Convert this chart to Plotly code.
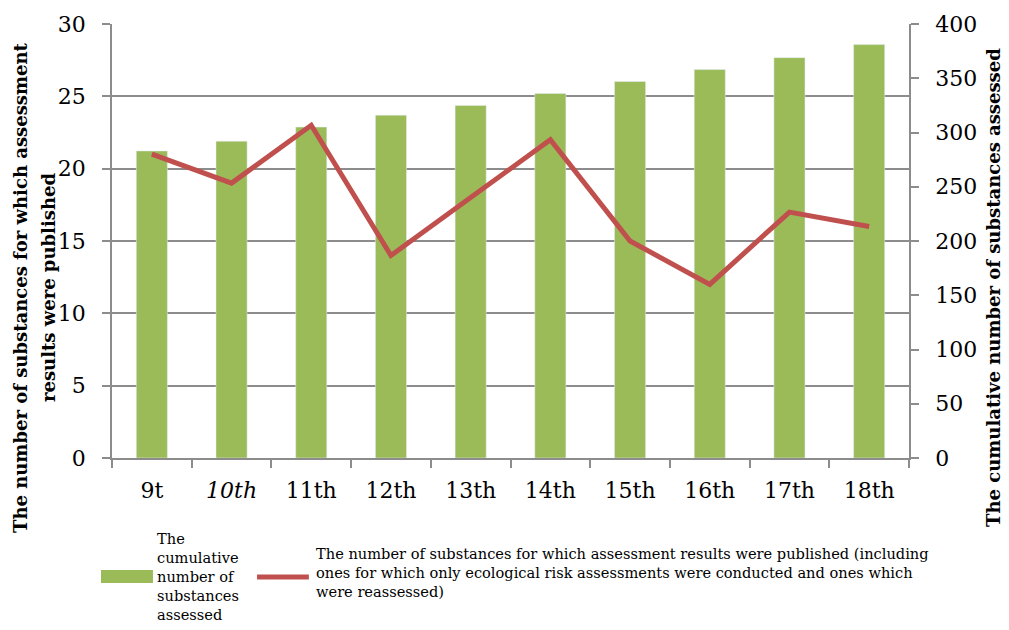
import plotly.graph_objects as go

rounds = ["9t", "10th", "11th", "12th", "13th", "14th", "15th", "16th", "17th", "18th"]
round_labels = ["9t", "<i>10th</i>", "11th", "12th", "13th", "14th", "15th", "16th", "17th", "18th"]
cumulative = [283, 292, 305, 316, 325, 336, 347, 358, 369, 381]
published = [21, 19, 23, 14, 18, 22, 15, 12, 17, 16]

green = "#9BBB59"
red = "#C0504D"
grey = "#8C8C8C"
tick_font = dict(family="DejaVu Serif", size=22, color="black")
title_font = dict(family="DejaVu Serif", size=18, color="black")
legend_font = dict(family="DejaVu Serif", size=14.6, color="black")

fig = go.Figure()
fig.add_trace(go.Bar(x=rounds, y=cumulative, marker=dict(color=green), yaxis="y", name="cumulative"))
fig.add_trace(go.Scatter(x=rounds, y=published, mode="lines", line=dict(color=red, width=5),
                         yaxis="y2", name="published"))

# the page adds an 8px body margin, so the figure is sized to fit the window
fig.update_layout(
    width=1001, height=622,
    margin=dict(l=104, r=100, t=16, b=172),
    plot_bgcolor="white", paper_bgcolor="white",
    showlegend=False, bargap=0.61,
    xaxis=dict(tickvals=rounds, ticktext=round_labels, tickfont=tick_font, automargin=False,
               showline=True, linecolor=grey, linewidth=1.5,
               ticks="outside", ticklen=8, tickcolor=grey, tickwidth=1.5,
               tickson="boundaries", ticklabelstandoff=12, showgrid=False),
    yaxis=dict(side="right", range=[0, 400], dtick=50, tickfont=tick_font, automargin=False,
               showline=True, linecolor=grey, linewidth=1.5, showgrid=False,
               ticks="outside", ticklen=8, tickcolor=grey, tickwidth=1.5,
               ticklabelstandoff=12, zeroline=False),
    yaxis2=dict(side="left", overlaying="y", range=[0, 30], dtick=5, tickfont=tick_font, automargin=False,
                showline=True, linecolor=grey, linewidth=1.5,
                showgrid=True, gridcolor=grey, gridwidth=1.5, zeroline=False,
                ticks="outside", ticklen=8, tickcolor=grey, tickwidth=1.5,
                ticklabelstandoff=12),
)

# axis titles (sit lower than the plot centre in the original, with wide line spacing)
def px_x(px):
    return (px - 112) / 797


title_y = (458 - 288) / 434
for line, xpos in [("The number of substances for which assessment", 20),
                   ("results were published", 48)]:
    fig.add_annotation(xref="paper", yref="paper", x=px_x(xpos), y=title_y, textangle=-90,
                       xanchor="center", yanchor="middle", showarrow=False, font=title_font,
                       text="<b>" + line + "</b>")
fig.add_annotation(xref="paper", yref="paper", x=px_x(993), y=title_y, textangle=-90,
                   xanchor="center", yanchor="middle", showarrow=False, font=title_font,
                   text="<b>The cumulative number of substances assessed</b>")

# legend drawn below the plot
fig.add_shape(type="rect", xref="paper", yref="paper", x0=-0.0138, x1=0.0514, y0=-0.258, y1=-0.288,
              fillcolor=green, line=dict(width=0))
fig.add_shape(type="line", xref="paper", yref="paper", x0=0.182, x1=0.247, y0=-0.274, y1=-0.274,
              line=dict(color=red, width=5))
fig.add_annotation(xref="paper", yref="paper", x=0.054, y=-0.161, xanchor="left", yanchor="top",
                   align="left", showarrow=False, font=legend_font,
                   text="The<br>cumulative<br>number of<br>substances<br>assessed")
fig.add_annotation(xref="paper", yref="paper", x=0.2535, y=-0.196, xanchor="left", yanchor="top",
                   align="left", showarrow=False, font=legend_font,
                   text="The number of substances for which assessment results were published (including<br>"
                        "ones for which only ecological risk assessments were conducted and ones which<br>"
                        "were reassessed)")

fig.write_html("out.html")
